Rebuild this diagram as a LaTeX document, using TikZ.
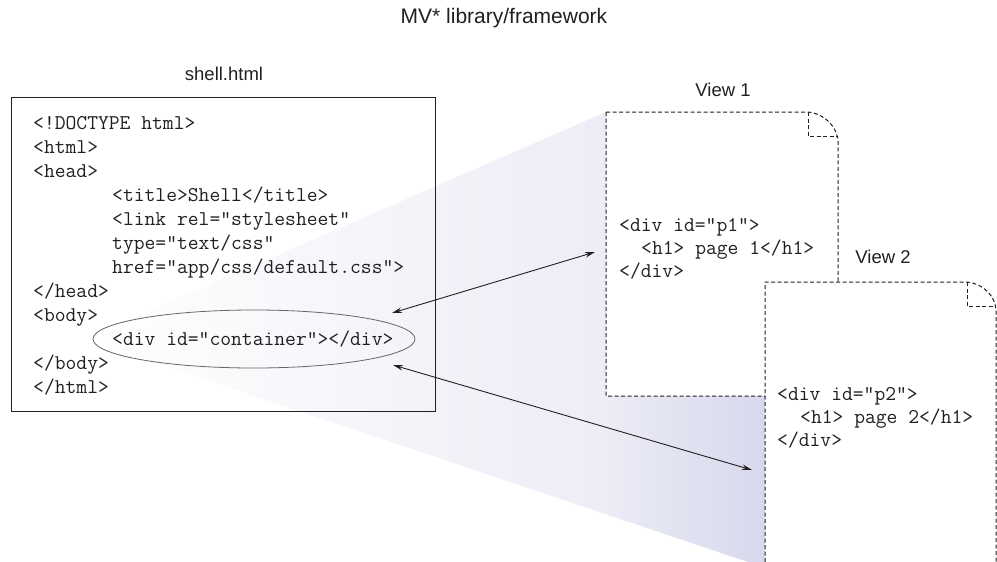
\documentclass[tikz,border=0pt]{standalone}
\usepackage{fontspec}
\setmainfont{Liberation Sans}
\usetikzlibrary{arrows.meta,shapes.geometric}
\definecolor{shadecol}{RGB}{215,216,236}
\definecolor{shademid}{RGB}{236,237,246}
\definecolor{inkcol}{RGB}{35,31,32}
\pgfdeclarehorizontalshading{wedgeshade}{100bp}{color(0bp)=(white); color(25bp)=(white); color(62.8bp)=(shademid); color(75bp)=(shadecol); color(100bp)=(shadecol)}
\tikzset{
  codetext/.style={font=\ttfamily\fontsize{21}{24}\selectfont, text=inkcol, inner sep=0pt, anchor=base west},
  labeltext/.style={font=\fontsize{18.5}{22}\selectfont, text=inkcol, inner sep=0pt},
  viewline/.style={draw=inkcol, line width=1pt, dash pattern=on 4pt off 2.5pt},
  linkarrow/.style={draw=inkcol, line width=0.9pt, {Stealth[length=10pt,width=5.5pt]}-{Stealth[length=10pt,width=5.5pt]}},
}
\begin{document}
\begin{tikzpicture}[x=1pt,y=-1pt]
\useasboundingbox (0,0) rectangle (997,562);
% shaded wedge
\shade[shading=wedgeshade] (85,339) -- (606,112) -- (765,112) -- (765,562) -- (748,562) -- cycle;
% titles
\node[labeltext, font=\fontsize{21}{24}\selectfont] (title) at (504,18) {MV* library/framework};
\node[labeltext] (shelllabel) at (224,74) {shell.html};
\node[labeltext] (v1label) at (723,90) {View 1};
\node[labeltext] (v2label) at (883,257) {View 2};
% shell box
\draw[draw=inkcol, line width=1pt] (11,97) rectangle (435,411);
\node[codetext] (l1) at (33,129) {<!DOCTYPE html>};
\node[codetext] (l2) at (33,153) {<html>};
\node[codetext] (l3) at (33,177) {<head>};
\node[codetext] (l4) at (112,201) {<title>Shell</title>};
\node[codetext] (l5) at (112,225) {<link rel="stylesheet"};
\node[codetext] (l6) at (112,249) {type="text/css"};
\node[codetext] (l7) at (112,273) {href="app/css/default.css">};
\node[codetext] (l8) at (33,297) {</head>};
\node[codetext] (l9) at (33,321) {<body>};
\node[codetext] (l10) at (112,345) {<div id="container"></div>};
\node[codetext] (l11) at (33,369) {</body>};
\node[codetext] (l12) at (33,393) {</html>};
\node[draw=black!60, line width=0.8pt, ellipse, minimum width=322pt, minimum height=58pt, inner sep=0pt] (ell) at (254,339) {};
% view 1
\fill[white] (606,112) -- (808,112) .. controls (825,114) and (836,126) .. (838,140) -- (838,396) -- (606,396) -- cycle;
\draw[viewline] (606,112) -- (808,112) .. controls (825,114) and (836,126) .. (838,140) -- (838,396) -- (606,396) -- cycle;
\draw[viewline] (808,112) -- (808,136) -- (838,136);
\node[codetext] (p1a) at (619,231) {<div id=”p1">};
\node[codetext] (p1b) at (641,254) {<h1> page 1</h1>};
\node[codetext] (p1c) at (619,277.5) {</div>};
% view 2
\fill[white] (765,282) -- (967,282) .. controls (984,284) and (995,296) .. (996,310) -- (996,562) -- (765,562) -- cycle;
\draw[viewline] (765,562) -- (765,282) -- (967,282) .. controls (984,284) and (995,296) .. (996,310) -- (996,562);
\draw[viewline] (967,282) -- (967,306) -- (996,306);
\node[codetext] (p2a) at (777,400) {<div id=”p2">};
\node[codetext] (p2b) at (800,423) {<h1> page 2</h1>};
\node[codetext] (p2c) at (777,446.5) {</div>};
% arrows
\coordinate (c1) at (392,313);
\coordinate (v1) at (595,252);
\coordinate (c2) at (393,365);
\coordinate (v2) at (752,470);
\draw[linkarrow] (c1) -- (v1);
\draw[linkarrow] (c2) -- (v2);
\end{tikzpicture}
\end{document}
